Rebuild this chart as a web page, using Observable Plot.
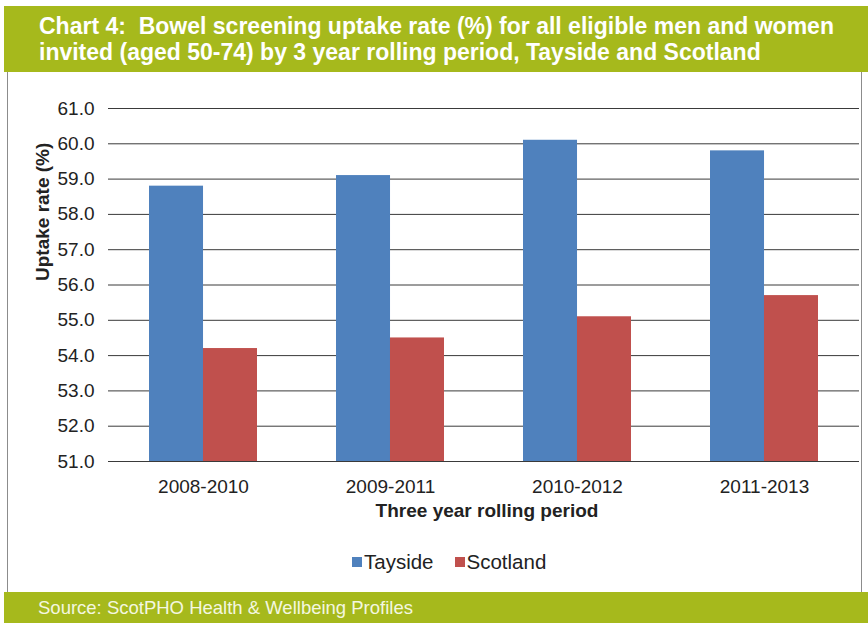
<!DOCTYPE html>
<html>
<head>
<meta charset="utf-8">
<script src="https://cdn.jsdelivr.net/npm/d3@7"></script>
<script src="https://cdn.jsdelivr.net/npm/@observablehq/plot@0.6"></script>
<style>
  html, body { margin: 0; padding: 0; background: #fff; }
  body { width: 868px; height: 623px; position: relative; overflow: hidden; font-family: "Liberation Sans", Arial, sans-serif; }
  .band { position: absolute; left: 4px; width: 864px; background: #a6b91c; color: #fff; }
  #title { top: 6px; height: 66px; font-size: 23px; font-weight: bold; line-height: 26px; padding: 7px 0 0 35px; box-sizing: border-box; }
  #footer { top: 592px; height: 31px; font-size: 18.5px; line-height: 31px; padding-left: 34px; box-sizing: border-box; color: #f4f7e0; }
  .vline { position: absolute; top: 72px; height: 520px; width: 1px; background: #8c8c8c; }
  #chart { position: absolute; left: 0; top: 72px; }
  #legend { position: absolute; top: 550px; left: 352px; font-size: 20.5px; color: #222; display: flex; align-items: center; }
  #legend span.sw { display: inline-block; width: 10px; height: 10px; margin-right: 2px; }
  #legend span.lab { margin-right: 21px; }
</style>
</head>
<body>
<div id="title" class="band">Chart 4:&nbsp; Bowel screening uptake rate (%) for all eligible men and women<br>invited (aged 50-74) by 3 year rolling period, Tayside and Scotland</div>
<div class="vline" style="left:7px"></div>
<div class="vline" style="left:861px"></div>
<div id="chart"></div>
<div id="legend"></div>
<div id="footer" class="band">Source: ScotPHO Health &amp; Wellbeing Profiles</div>
<script>
// ---- data ----
const periods = ["2008-2010", "2009-2011", "2010-2012", "2011-2013"];
const series = ["Tayside", "Scotland"];
const tayside = [58.8, 59.1, 60.1, 59.8];
const scotland = [54.2, 54.5, 55.1, 55.7];
const yTicks = [51, 52, 53, 54, 55, 56, 57, 58, 59, 60, 61];
const colors = ["#4f81bd", "#c0504d"];
const yLabel = "Uptake rate (%)";
const xLabel = "Three year rolling period";

const rows = [];
periods.forEach((p, i) => {
  rows.push({period: p, series: "Tayside", value: tayside[i]});
  rows.push({period: p, series: "Scotland", value: scotland[i]});
});

const W = 868, H = 520, mL = 108, mR = 9, mT = 36, mB = 131;
const padInner = 0.425, padOuter = 0.2125;
const step = (W - mL - mR) / (periods.length - padInner + 2 * padOuter);
const half = step * (1 - padInner) / 2;
const yMin = yTicks[0], yMax = yTicks[yTicks.length - 1];

const chart = Plot.plot({
  width: W, height: H,
  marginLeft: mL, marginRight: mR, marginTop: mT, marginBottom: mB,
  style: {fontFamily: '"Liberation Sans", Arial, sans-serif', color: "#222", background: "transparent"},
  x: {domain: periods, paddingInner: padInner, paddingOuter: padOuter, label: null},
  y: {domain: [yMin, yMax], label: null},
  color: {domain: series, range: colors},
  marks: [
    Plot.ruleY(yTicks, {stroke: "#3a3a3a", strokeWidth: 1}),
    Plot.barY(rows.filter(d => d.series === "Tayside"), {x: "period", y1: yMin, y2: "value", fill: "series", insetRight: half}),
    Plot.barY(rows.filter(d => d.series === "Scotland"), {x: "period", y1: yMin, y2: "value", fill: "series", insetLeft: half}),
    Plot.axisY(yTicks, {tickSize: 0, tickPadding: 14, tickFormat: d3.format(".1f"), fontSize: 19, label: null}),
    Plot.axisX({tickSize: 0, tickPadding: 18, fontSize: 19, label: null}),
    Plot.text([yLabel], {frameAnchor: "left", rotate: -90, dx: -66, dy: -4, fontSize: 19, fontWeight: "bold", fill: "#222"}),
    Plot.text([xLabel], {frameAnchor: "bottom", dy: 55, dx: 3, fontSize: 19, fontWeight: "bold", fill: "#222"})
  ]
});
document.getElementById("chart").appendChild(chart);

const legend = document.getElementById("legend");
series.forEach((s, i) => {
  const sw = document.createElement("span");
  sw.className = "sw"; sw.style.background = colors[i];
  const lab = document.createElement("span");
  lab.className = "lab"; lab.textContent = s;
  legend.appendChild(sw); legend.appendChild(lab);
});
</script>
</body>
</html>
